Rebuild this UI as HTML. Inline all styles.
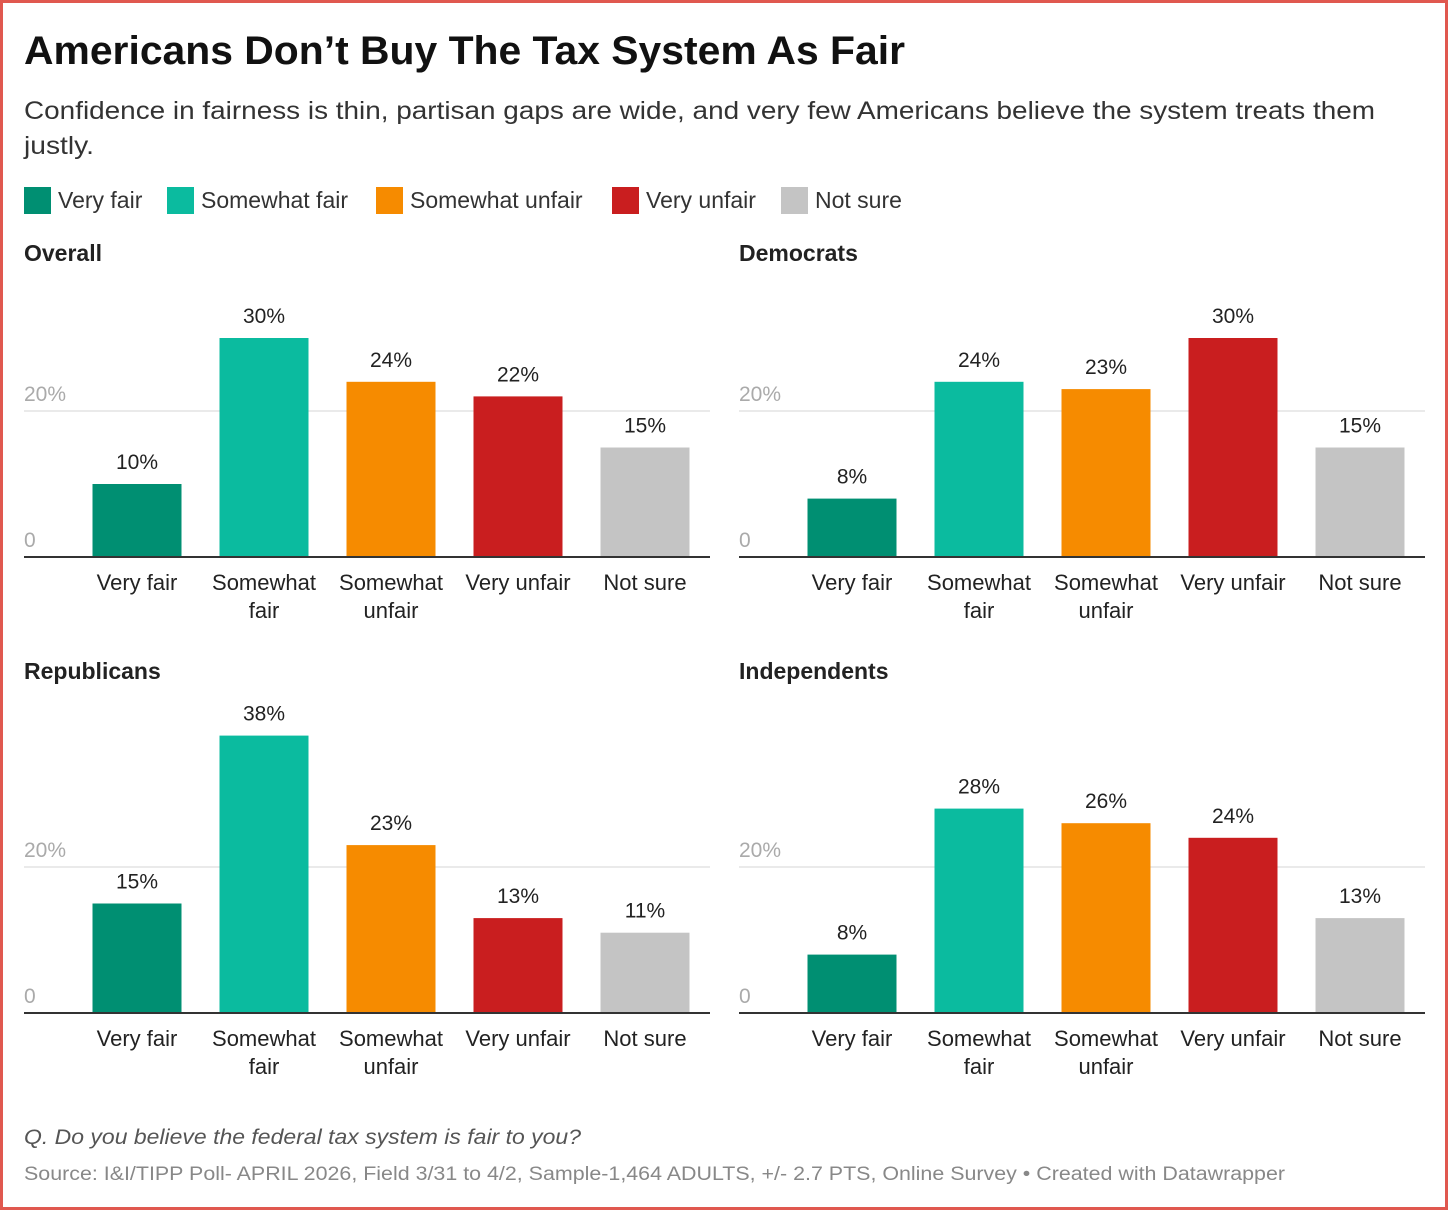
<!DOCTYPE html>
<html><head><meta charset="utf-8"><style>
html,body{margin:0;padding:0;background:#fff}
body{width:1448px;height:1210px;overflow:hidden;font-family:"Liberation Sans",Roboto,sans-serif}
#frame{position:absolute;left:0;top:0;width:1442px;height:1204px;border:3px solid #e0584f}
svg text{font-family:"Liberation Sans",sans-serif}
</style></head><body>
<div id="frame"></div>
<svg id="chart" width="1448" height="1210" style="position:absolute;left:0;top:0">
<text x="24" y="64" font-size="40" font-weight="bold" fill="#111" textLength="881" lengthAdjust="spacingAndGlyphs">Americans Don’t Buy The Tax System As Fair</text>
<text x="24" y="119" font-size="25" fill="#333" textLength="1351" lengthAdjust="spacingAndGlyphs">Confidence in fairness is thin, partisan gaps are wide, and very few Americans believe the system treats them</text>
<text x="24" y="154" font-size="25" fill="#333" textLength="70" lengthAdjust="spacingAndGlyphs">justly.</text>
<g id="legend"></g>
<g id="panels"></g>
<text x="24" y="1144" font-size="21" font-style="italic" fill="#555" textLength="557" lengthAdjust="spacingAndGlyphs">Q. Do you believe the federal tax system is fair to you?</text>
<text x="24" y="1180" font-size="19" fill="#888" textLength="1261" lengthAdjust="spacingAndGlyphs">Source: I&amp;I/TIPP Poll- APRIL 2026, Field 3/31 to 4/2, Sample-1,464 ADULTS, +/- 2.7 PTS, Online Survey • Created with Datawrapper</text>
</svg>
<script>
const categories=["Very fair","Somewhat fair","Somewhat unfair","Very unfair","Not sure"];
const catLines=[["Very fair"],["Somewhat","fair"],["Somewhat","unfair"],["Very unfair"],["Not sure"]];
const colors=["#008f72","#0bbb9f","#f68b00","#c91e1f","#c4c4c4"];
const panelNames=["Overall","Democrats","Republicans","Independents"];
const overallValues=[10,30,24,22,15];
const democratValues=[8,24,23,30,15];
const republicanValues=[15,38,23,13,11];
const independentValues=[8,28,26,24,13];
const tickValues=[0,20];
const tickLabels=["0","20%"];
const series=[overallValues,democratValues,republicanValues,independentValues];
const NS="http://www.w3.org/2000/svg";
const svg=document.getElementById('chart');
function mk(tag,attrs,parent,txt){const e=document.createElementNS(NS,tag);for(const k in attrs)e.setAttribute(k,attrs[k]);if(txt!==undefined)e.textContent=txt;parent.appendChild(e);return e;}
const lg=document.getElementById('legend');
const legX=[24,167,376,612,781];
categories.forEach((c,i)=>{
  const g=mk('g',{},lg);
  
  
  mk('rect',{x:legX[i],y:187,width:27,height:27,fill:colors[i]},g);
  mk('text',{x:legX[i]+34,y:208,'font-size':23,fill:'#333'},g,c);
});
const pg=document.getElementById('panels');
const origins=[[24,557],[739,557],[24,1013],[739,1013]];
const titleY=[261,261,679,679];
const pxPerPct=7.3;
series.forEach((vals,p)=>{
  const [ox,base]=origins[p];
  const g=mk('g',{},pg);
  
  
  const y=v=>base-v*pxPerPct;
  const x=i=>ox+113+i*127;
  const t=mk('text',{x:ox,y:titleY[p],'font-size':23,'font-weight':'bold',fill:'#222'},g,panelNames[p]);
  
  
  tickValues.forEach((tv,k)=>{
    if(tv>0){const l=mk('line',{x1:ox,x2:ox+686,y1:y(tv),y2:y(tv),stroke:'#e3e3e3','stroke-width':1.5},g);
      }
    const tl=mk('text',{x:ox,y:y(tv)-10,'font-size':21,fill:'#aaa'},g,tickLabels[k]);
    
    
  });
  vals.forEach((v,i)=>{
    const r=mk('rect',{x:x(i)-44.5,y:y(v),width:89,height:v*pxPerPct,fill:colors[i]},g);
    
    
    const vl=mk('text',{x:x(i),y:y(v)-15,'font-size':21,fill:'#222','text-anchor':'middle'},g,v+'%');
    
    
    catLines[i].forEach((ln,j)=>{
      const cl=mk('text',{x:x(i),y:base+33+j*28,'font-size':22,fill:'#222','text-anchor':'middle'},g,ln);
      
      
    });
  });
  const ax=mk('line',{x1:ox,x2:ox+686,y1:base,y2:base,stroke:'#333','stroke-width':2},g);
  
  
});
</script>
</body></html>
